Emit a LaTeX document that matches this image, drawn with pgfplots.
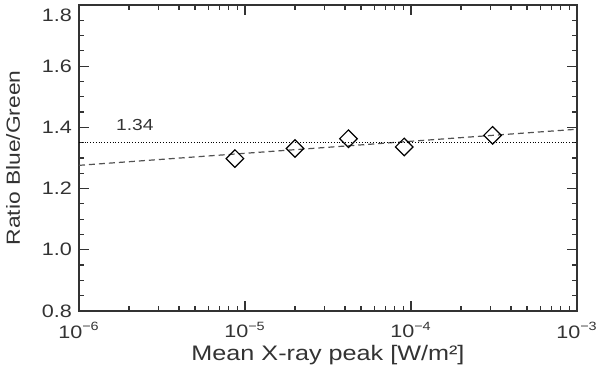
\documentclass[border=0pt]{standalone}
\usepackage{fontspec}
\setmainfont[FakeStretch=1.2]{Liberation Sans}
\usepackage{pgfplots}
\pgfplotsset{compat=1.18}

\definecolor{axgray}{HTML}{333333}

\begin{document}
\begin{tikzpicture}
\begin{semilogxaxis}[
    scale only axis,
    width=249pt, height=153pt,
    xmin=1e-6, xmax=1e-3,
    ymin=0.8, ymax=1.8,
    xtick={1e-6,1e-5,1e-4,1e-3},
    xticklabels={10\textsuperscript{−6},10\textsuperscript{−5},10\textsuperscript{−4},10\textsuperscript{−3}},
    ytick={0.8,1.0,1.2,1.4,1.6,1.8},
    yticklabels={0.8,1.0,1.2,1.4,1.6,\raisebox{-5pt}[\height][\depth]{1.8}},
    minor ytick={0.85,0.9,0.95,1.05,1.1,1.15,1.25,1.3,1.35,1.45,1.5,1.55,1.65,1.7,1.75},
    tick align=inside,
    major tick length=5pt, minor tick length=2.5pt,
    axis line style={axgray, line width=0.8pt},
    every tick/.style={axgray, line width=0.6pt},
    tick label style={font=\fontsize{9}{10}\selectfont, text=axgray},
    xticklabel style={yshift=-2pt},
    xlabel={Mean X-ray peak [W/m²]},
    ylabel={Ratio Blue/Green},
    xlabel style={font=\fontsize{10.5}{12}\selectfont, text=axgray, at={(axis description cs:0.5,0)}, anchor=center, yshift=-22pt},
    ylabel style={font=\fontsize{9.5}{11}\selectfont, text=axgray, at={([xshift=-33pt]axis description cs:0,0.5)}, anchor=center},
    clip=false,
]
% fit line
\addplot[axgray!85, line width=0.6pt, dash pattern=on 3pt off 2pt] coordinates {(1e-6,1.276) (1e-3,1.394)};
% mean level
\addplot[black, line width=0.4pt, dash pattern=on 0.4pt off 1pt] coordinates {(1e-6,1.350) (1e-3,1.350)};
% data
\addplot[only marks, mark=square, mark options={rotate=45, black, line width=0.6pt, fill=white}, mark size=3.1pt] coordinates {
    (8.7e-6,1.298) (2.0e-5,1.331) (4.2e-5,1.363) (9.1e-5,1.336) (3.1e-4,1.374)
};
\node[anchor=base west, font=\fontsize{8}{9}\selectfont, text=axgray] at (axis cs:1.52e-6,1.39) {1.34};
\end{semilogxaxis}
\pgfresetboundingbox
\useasboundingbox (current axis.south west) ++(-39.5pt,-29.2pt) rectangle ([shift={(11.5pt,2.5pt)}]current axis.north east);
\end{tikzpicture}
\end{document}
